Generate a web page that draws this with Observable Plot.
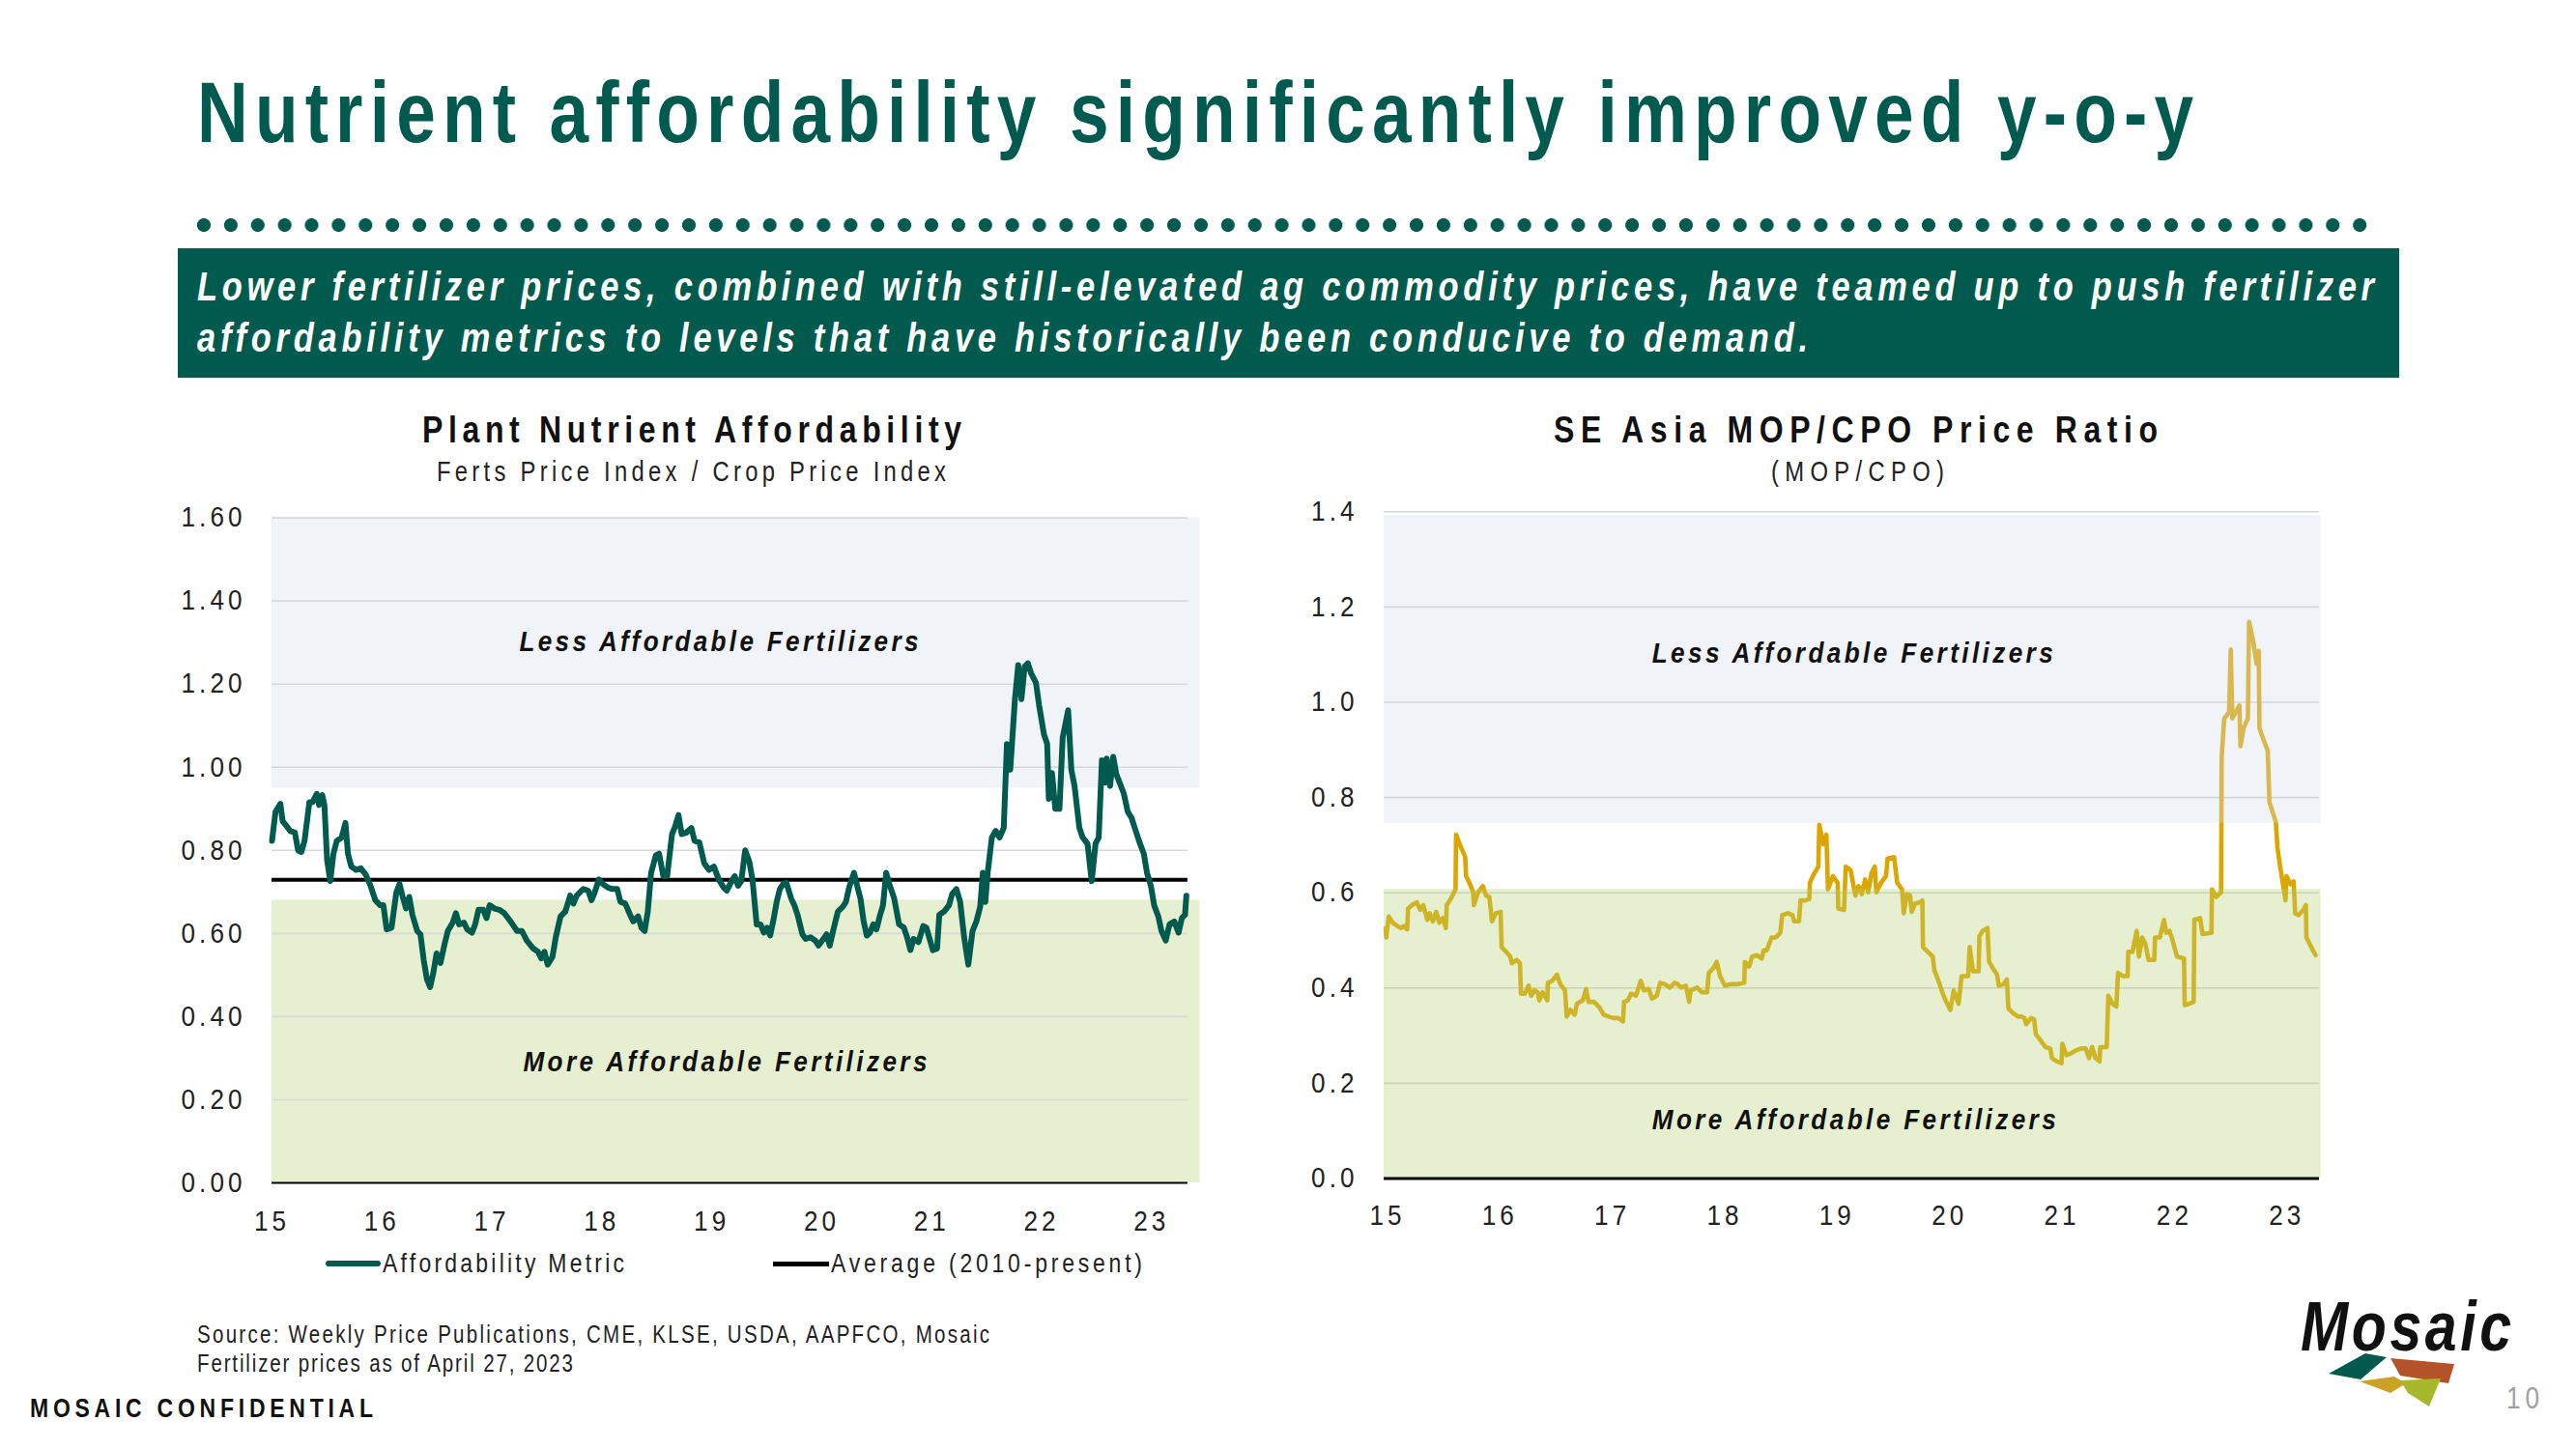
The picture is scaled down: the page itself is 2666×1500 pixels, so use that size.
<!DOCTYPE html>
<html><head><meta charset="utf-8">
<script src="https://cdn.jsdelivr.net/npm/d3@7"></script>
<script src="https://cdn.jsdelivr.net/npm/@observablehq/plot@0.6"></script>
<style>
html,body{margin:0;padding:0;background:#fff;}
body{width:2666px;height:1500px;position:relative;overflow:hidden;font-family:"Liberation Sans",Arial,sans-serif;color:#111;}
.t{position:absolute;white-space:nowrap;line-height:1;transform-origin:0 0;}
.abs{position:absolute;}
</style></head><body>
<div id="banner" class="abs" style="left:184px;top:257px;width:2299px;height:134px;background:#005a4e;"></div>
<div id="dots" class="abs"></div>
<div id="leftChart" class="abs" style="left:150px;top:500px;"></div>
<div id="rightChart" class="abs" style="left:1300px;top:500px;"></div>
<svg id="logo" class="abs" style="left:2400px;top:1392px;" width="150" height="70">
  <polygon points="10,30 48,9 70,13 43,36" fill="#005a4e"/>
  <polygon points="74,14 140,20 134,40 84,32" fill="#b4532a"/>
  <polygon points="42,38 78,33 90,40 74,50" fill="#c9a227"/>
  <polygon points="84,37 126,35 114,64 92,50" fill="#a8b82c"/>
</svg>
<script>
// ---------------- DATA ----------------
const xTicks = [15, 16, 17, 18, 19, 20, 21, 22, 23];
const leftYTicks = [0, 0.2, 0.4, 0.6, 0.8, 1.0, 1.2, 1.4, 1.6];
const rightYTicks = [0, 0.2, 0.4, 0.6, 0.8, 1.0, 1.2, 1.4];
const averageValue = 0.729;              // Average (2010-present)
const leftLessBand = [0.95, 1.6];        // Less affordable zone
const leftMoreBand = [0, 0.68];          // More affordable zone
const rightLessBand = [0.746, 1.392];
const rightMoreBand = [0, 0.607];
const leftBandYears = [15, 23.44];
const rightBandYears = [14.97, 23.305];

const affordYears = [
15.000,15.032,15.076,15.097,15.135,15.164,15.208,15.237,15.267,15.296,15.340,15.369,15.407,15.428,15.457,15.477,
15.501,15.530,15.559,15.589,15.633,15.668,15.691,15.721,15.765,15.808,15.852,15.896,15.940,15.984,16.013,16.043,
16.087,16.131,16.160,16.189,16.219,16.248,16.277,16.321,16.350,16.380,16.409,16.438,16.467,16.497,16.532,16.570,
16.599,16.643,16.673,16.702,16.746,16.775,16.819,16.848,16.878,16.922,16.951,16.980,17.024,17.068,17.112,17.170,
17.229,17.273,17.317,17.375,17.419,17.449,17.478,17.507,17.551,17.581,17.624,17.668,17.712,17.742,17.771,17.815,
17.832,17.876,17.906,17.935,17.973,18.008,18.052,18.096,18.140,18.169,18.213,18.257,18.286,18.330,18.360,18.389,
18.418,18.448,18.491,18.521,18.559,18.594,18.638,18.667,18.697,18.726,18.770,18.814,18.843,18.887,18.931,18.975,
19.019,19.063,19.107,19.136,19.180,19.209,19.238,19.268,19.303,19.341,19.370,19.408,19.443,19.473,19.502,19.531,
19.561,19.590,19.619,19.649,19.678,19.722,19.751,19.780,19.824,19.854,19.897,19.941,19.971,20.015,20.044,20.073,
20.103,20.147,20.190,20.220,20.249,20.293,20.322,20.352,20.381,20.410,20.439,20.469,20.498,20.527,20.557,20.586,
20.615,20.659,20.703,20.747,20.776,20.806,20.835,20.879,20.923,20.952,20.981,21.011,21.049,21.069,21.113,21.157,
21.186,21.224,21.259,21.295,21.333,21.371,21.406,21.441,21.465,21.488,21.509,21.547,21.582,21.617,21.655,21.684,
21.714,21.728,21.757,21.787,21.816,21.845,21.875,21.904,21.948,21.977,22.021,22.050,22.065,22.094,22.124,22.162,
22.191,22.241,22.270,22.299,22.343,22.373,22.417,22.455,22.490,22.519,22.548,22.578,22.592,22.622,22.651,22.680,
22.709,22.748,22.783,22.818,22.847,22.885,22.929,22.958,22.993,23.023,23.061,23.090,23.128,23.163,23.207,23.245,
23.275,23.304,23.316];
const affordValues = [
0.823,0.893,0.912,0.870,0.858,0.847,0.843,0.800,0.796,0.823,0.916,0.916,0.936,0.909,0.933,0.909,
0.777,0.726,0.792,0.823,0.831,0.866,0.792,0.761,0.753,0.757,0.742,0.715,0.680,0.668,0.668,0.610,
0.614,0.699,0.719,0.688,0.660,0.688,0.645,0.606,0.598,0.536,0.490,0.471,0.505,0.552,0.529,0.575,
0.606,0.626,0.649,0.622,0.626,0.610,0.602,0.622,0.657,0.657,0.637,0.668,0.660,0.657,0.649,0.629,
0.606,0.606,0.583,0.564,0.556,0.540,0.556,0.525,0.544,0.591,0.641,0.653,0.691,0.672,0.691,0.703,
0.707,0.703,0.680,0.699,0.730,0.719,0.711,0.707,0.707,0.676,0.672,0.645,0.629,0.641,0.614,0.606,
0.653,0.746,0.788,0.792,0.738,0.738,0.839,0.858,0.885,0.839,0.843,0.854,0.823,0.819,0.769,0.753,
0.761,0.730,0.711,0.703,0.726,0.738,0.715,0.726,0.800,0.773,0.730,0.622,0.622,0.602,0.614,0.595,
0.633,0.676,0.707,0.719,0.722,0.684,0.668,0.645,0.598,0.587,0.591,0.583,0.571,0.587,0.598,0.571,
0.606,0.653,0.664,0.676,0.711,0.746,0.715,0.684,0.629,0.595,0.602,0.622,0.610,0.641,0.668,0.746,
0.719,0.684,0.622,0.614,0.591,0.560,0.587,0.579,0.618,0.614,0.587,0.560,0.564,0.645,0.653,0.668,
0.695,0.707,0.676,0.591,0.525,0.606,0.629,0.664,0.746,0.676,0.746,0.831,0.847,0.831,0.854,1.056,
0.994,1.048,1.164,1.246,1.164,1.242,1.250,1.226,1.203,1.149,1.079,1.056,0.924,0.986,0.900,0.900,
1.071,1.137,0.994,0.955,0.854,0.831,0.816,0.726,0.816,0.831,1.017,0.963,1.021,0.955,1.025,0.982,
0.963,0.936,0.893,0.878,0.854,0.823,0.792,0.746,0.715,0.668,0.641,0.606,0.583,0.622,0.629,0.602,
0.637,0.645,0.691];

const mopYears = [
14.983,14.989,15.011,15.046,15.089,15.118,15.146,15.175,15.183,15.218,15.261,15.290,15.318,15.355,15.375,15.404,
15.433,15.461,15.490,15.519,15.527,15.562,15.605,15.610,15.648,15.691,15.699,15.734,15.762,15.768,15.805,15.848,
15.877,15.906,15.929,15.963,16.006,16.015,16.055,16.092,16.106,16.149,16.178,16.187,16.221,16.255,16.278,16.307,
16.336,16.350,16.379,16.422,16.427,16.465,16.508,16.536,16.579,16.594,16.628,16.665,16.685,16.737,16.766,16.788,
16.837,16.880,16.923,16.966,17.009,17.052,17.095,17.104,17.138,17.167,17.210,17.253,17.281,17.324,17.353,17.396,
17.425,17.468,17.511,17.554,17.582,17.611,17.654,17.683,17.697,17.726,17.754,17.797,
17.843,17.858,17.900,17.929,17.958,18.001,18.058,18.116,18.173,18.179,18.216,18.244,18.287,18.330,18.345,18.373,
18.416,18.454,18.494,18.511,18.560,18.603,18.617,18.660,18.674,18.717,18.752,18.757,18.789,18.832,18.841,18.875,
18.904,18.918,18.961,19.004,19.010,19.061,19.076,19.119,19.162,19.190,19.219,19.248,19.276,19.305,19.334,19.348,
19.391,19.434,19.448,19.506,19.534,19.577,19.592,19.620,19.649,19.663,19.692,19.735,19.758,19.763,19.806,19.850,
19.864,19.907,19.935,19.964,20.007,20.036,20.079,20.107,20.165,20.179,20.208,20.259,20.265,20.294,20.337,20.351,
20.394,20.423,20.437,20.480,20.509,20.523,20.566,20.609,
20.638,20.666,20.681,20.724,20.752,20.767,20.810,20.853,20.896,20.910,20.953,20.996,21.002,21.039,21.082,21.125,
21.168,21.211,21.240,21.268,21.297,21.334,21.340,21.397,21.412,21.449,21.483,21.498,21.541,21.584,21.589,21.627,
21.664,21.684,21.713,21.741,21.770,21.821,21.827,21.870,21.907,21.927,21.956,21.985,22.022,22.085,22.091,22.128,
22.171,22.177,22.228,22.251,22.329,22.334,22.372,22.415,22.420,22.443,22.486,22.501,22.515,22.544,22.578,22.587,
22.615,22.653,22.664,22.701,22.730,22.750,22.756,22.787,22.830,22.845,22.902,22.916,22.945,22.988,22.997,23.031,
23.060,23.074,23.103,23.146,23.169,23.174,23.217,23.255];
const mopValues = [
0.526,0.506,0.550,0.537,0.530,0.526,0.530,0.523,0.567,0.574,0.580,0.564,0.574,0.543,0.557,0.540,
0.560,0.537,0.547,0.526,0.574,0.587,0.607,0.722,0.699,0.675,0.635,0.618,0.601,0.574,0.601,0.614,
0.594,0.591,0.540,0.557,0.560,0.486,0.476,0.466,0.452,0.459,0.452,0.388,0.388,0.405,0.384,0.395,
0.391,0.374,0.391,0.374,0.411,0.415,0.428,0.408,0.395,0.340,0.354,0.344,0.367,0.374,0.398,0.371,
0.371,0.361,0.344,0.340,0.337,0.337,0.330,0.371,0.374,0.388,0.384,0.415,0.395,0.398,0.378,0.384,
0.411,0.408,0.401,0.411,0.408,0.401,0.405,0.371,0.395,0.398,0.401,0.391,
0.391,0.432,0.442,0.455,0.425,0.405,0.408,0.408,0.411,0.455,0.445,0.466,0.469,0.462,0.479,0.479,
0.506,0.506,0.516,0.553,0.557,0.553,0.540,0.540,0.584,0.584,0.587,0.621,0.638,0.655,0.743,0.702,
0.722,0.607,0.635,0.621,0.567,0.564,0.655,0.648,0.594,0.614,0.597,0.628,0.601,0.641,0.655,0.601,
0.621,0.635,0.672,0.675,0.621,0.607,0.557,0.597,0.594,0.560,0.577,0.580,0.584,0.486,0.476,0.466,
0.438,0.411,0.391,0.374,0.354,0.395,0.367,0.425,0.425,0.486,0.435,0.435,0.509,0.520,0.526,0.455,
0.438,0.428,0.405,0.408,0.418,0.357,0.347,0.340,
0.340,0.337,0.324,0.337,0.334,0.303,0.290,0.276,0.273,0.253,0.246,0.242,0.283,0.259,0.263,0.269,
0.273,0.273,0.253,0.276,0.253,0.246,0.276,0.276,0.384,0.367,0.361,0.432,0.425,0.425,0.476,0.476,
0.520,0.466,0.506,0.493,0.459,0.459,0.506,0.506,0.543,0.516,0.520,0.499,0.466,0.462,0.364,0.367,
0.371,0.543,0.547,0.513,0.516,0.607,0.591,0.601,0.885,0.966,0.979,1.111,0.966,0.979,0.993,0.908,
0.946,0.966,1.169,1.128,1.081,1.108,0.946,0.925,0.898,0.790,0.749,0.695,0.648,0.584,0.635,0.618,
0.624,0.557,0.553,0.564,0.574,0.506,0.486,0.469];

// ---------------- TEXT HELPERS ----------------
const FONT = '"Liberation Sans",Arial,sans-serif';
const K = 0.82;   // horizontal condensing for HTML text (narrow face look)
const KS = 0.9;   // condensing for chart text
function place(text, o) {
  const d = document.createElement("div");
  d.className = "t";
  d.textContent = text;
  d.style.fontSize = o.size + "px";
  d.style.fontWeight = o.weight || "normal";
  d.style.fontStyle = o.style || "normal";
  d.style.color = o.color || "#111";
  d.style.left = o.x + "px";
  d.style.top = (o.baseline - 0.8465 * o.size) + "px";
  d.style.transform = `scaleX(${K})`;
  document.body.appendChild(d);
  if (o.width) {
    d.style.letterSpacing = "0px";
    const w0 = d.getBoundingClientRect().width;
    const n = text.length;
    d.style.letterSpacing = ((o.width - w0) / (K * (n - 1))) + "px";
  }
  return d;
}

// Header
place("Nutrient affordability significantly improved y-o-y", {x:204, baseline:147, size:89, weight:"bold", color:"#005a4e", width:2066});
place("Lower fertilizer prices, combined with still-elevated ag commodity prices, have teamed up to push fertilizer", {x:204, baseline:311.7, size:42, weight:"bold", style:"italic", color:"#fff", width:2253});
place("affordability metrics to levels that have historically been conducive to demand.", {x:204, baseline:365, size:42, weight:"bold", style:"italic", color:"#fff", width:1667});

// dotted rule
(function(){
  const n = 81, first = 210.5, last = 2442.5, r = 6.6;
  const step = (last - first) / (n - 1);
  const d = document.getElementById("dots");
  d.style.left = (first - step / 2) + "px";
  d.style.top = (233 - 8) + "px";
  d.style.width = (n * step) + "px";
  d.style.height = "16px";
  d.style.backgroundImage = `radial-gradient(circle at center, #005a4e ${r}px, rgba(0,90,78,0) ${r + 0.8}px)`;
  d.style.backgroundSize = `${step}px 16px`;
  d.style.backgroundRepeat = "repeat-x";
})();

// Chart titles
place("Plant Nutrient Affordability", {x:437, baseline:458, size:39, weight:"bold", color:"#111", width:558});
place("Ferts Price Index / Crop Price Index", {x:452, baseline:499, size:29, color:"#222", width:527});
place("SE Asia MOP/CPO Price Ratio", {x:1608, baseline:458, size:39, weight:"bold", color:"#111", width:625});
place("(MOP/CPO)", {x:1833, baseline:499, size:29, color:"#222", width:179});

// Legend swatches
(function(){
  const s1 = document.createElement("div");
  s1.className = "abs";
  Object.assign(s1.style, {left:"337px", top:"1305px", width:"57px", height:"6px", background:"#005a4e", borderRadius:"3px"});
  document.body.appendChild(s1);
  const s2 = document.createElement("div");
  s2.className = "abs";
  Object.assign(s2.style, {left:"800px", top:"1306px", width:"58px", height:"4.5px", background:"#000"});
  document.body.appendChild(s2);
})();
place("Affordability Metric", {x:396, baseline:1318, size:28, color:"#222", width:250});
place("Average (2010-present)", {x:860, baseline:1318, size:28, color:"#222", width:322});

// Footer
place("Source: Weekly Price Publications, CME, KLSE, USDA, AAPFCO, Mosaic", {x:204, baseline:1390, size:25, color:"#222", width:820});
place("Fertilizer prices as of April 27, 2023", {x:204, baseline:1420, size:25, color:"#222", width:389});
place("MOSAIC CONFIDENTIAL", {x:31, baseline:1468, size:28, weight:"bold", color:"#111", width:355});
place("10", {x:2594, baseline:1458, size:32, color:"#a0a0a0", width:34});
place("Mosaic", {x:2381, baseline:1398, size:72, weight:"bold", style:"italic", color:"#111", width:218});

// ---------------- CHARTS ----------------
const affordTable = affordYears.map((x, i) => ({x, y: affordValues[i]}));
const mopTable = mopYears.map((x, i) => ({x, y: mopValues[i]}));
const band = (yr, yb) => [{x1: yr[0], x2: yr[1], y1: yb[0], y2: yb[1]}];
const LS = 4.5;           // tick label letter spacing before condensing
const TRAIL = LS * KS;    // trailing spacing after an end-anchored label

const left = Plot.plot({
  width: 1150, height: 800,
  marginLeft: 131, marginRight: 71.1, marginTop: 35.6, marginBottom: 76,
  style: {fontFamily: FONT, fontSize: "29px", color: "#222", background: "transparent", overflow: "visible"},
  x: {domain: [15, 23.33], ticks: xTicks, tickFormat: d => String(d), tickSize: 0, tickPadding: 29, label: null},
  y: {domain: [0, 1.6], ticks: leftYTicks, tickFormat: d3.format(".2f"), tickSize: 0, tickPadding: 31 - TRAIL, label: null},
  marks: [
    Plot.rect(band(leftBandYears, leftLessBand), {x1: "x1", x2: "x2", y1: "y1", y2: "y2", fill: "#f0f3f7"}),
    Plot.rect(band(leftBandYears, leftMoreBand), {x1: "x1", x2: "x2", y1: "y1", y2: "y2", fill: "#e6f0d0"}),
    Plot.gridY(leftYTicks.filter(d => d > 0), {stroke: "#d6d8da", strokeOpacity: 1, strokeWidth: 1.6}),
    Plot.ruleY([0], {stroke: "#000", strokeWidth: 2}),
    Plot.ruleY([averageValue], {stroke: "#000", strokeWidth: 4}),
    Plot.line(affordTable, {x: "x", y: "y", stroke: "#005a4e", strokeWidth: 6, strokeLinejoin: "round", strokeLinecap: "round"}),
    Plot.text(["Less Affordable Fertilizers"], {x: 19.064, y: 1.30, text: d => d, fontSize: 29, fontWeight: "bold", fontStyle: "italic", fill: "#111"}),
    Plot.text(["More Affordable Fertilizers"], {x: 19.121, y: 0.291, text: d => d, fontSize: 29, fontWeight: "bold", fontStyle: "italic", fill: "#111"})
  ]
});
document.getElementById("leftChart").appendChild(left);

const right = Plot.plot({
  width: 1150, height: 800,
  marginLeft: 132, marginRight: 50, marginTop: 29.3, marginBottom: 80.5,
  style: {fontFamily: FONT, fontSize: "29px", color: "#222", background: "transparent", overflow: "visible"},
  x: {domain: [14.97, 23.29], ticks: xTicks, tickFormat: d => String(d), tickSize: 0, tickPadding: 27.5, label: null},
  y: {domain: [0, 1.4], ticks: rightYTicks, tickFormat: d3.format(".1f"), tickSize: 0, tickPadding: 31 - TRAIL, label: null},
  marks: [
    Plot.gridY(rightYTicks.filter(d => d > 0), {stroke: "#d4d6d9", strokeOpacity: 1, strokeWidth: 1.6}),
    Plot.line(mopTable, {x: "x", y: "y", stroke: "#dba600", strokeWidth: 4.6, strokeLinejoin: "round"}),
    Plot.rect(band(rightBandYears, rightLessBand), {x1: "x1", x2: "x2", y1: "y1", y2: "y2", fill: "rgb(211,220,232)", fillOpacity: 0.34}),
    Plot.rect(band(rightBandYears, rightMoreBand), {x1: "x1", x2: "x2", y1: "y1", y2: "y2", fill: "rgb(181,211,117)", fillOpacity: 0.34}),
    Plot.ruleY([0], {stroke: "#000", strokeWidth: 3}),
    Plot.text(["Less Affordable Fertilizers"], {x: 19.136, y: 1.102, text: d => d, fontSize: 29, fontWeight: "bold", fontStyle: "italic", fill: "#111"}),
    Plot.text(["More Affordable Fertilizers"], {x: 19.149, y: 0.123, text: d => d, fontSize: 29, fontWeight: "bold", fontStyle: "italic", fill: "#111"})
  ]
});
document.getElementById("rightChart").appendChild(right);

// condense svg text around its anchor, widen tick spacing, fit band labels
function condense(t, k) {
  const tr = t.getAttribute("transform") || "";
  let ax = parseFloat(t.getAttribute("x") || 0) || 0;
  const m = tr.match(/translate\(\s*([-\d.e+]+)/);
  if (m) ax += parseFloat(m[1]);
  t.setAttribute("transform", `translate(${ax},0) scale(${k},1) translate(${-ax},0) ${tr}`);
}
const labelWidths = {
  left: {"Less Affordable Fertilizers": 413, "More Affordable Fertilizers": 418},
  right: {"Less Affordable Fertilizers": 415, "More Affordable Fertilizers": 418}
};
for (const svg of [left, right]) {
  const side = svg === left ? "left" : "right";
  svg.querySelectorAll('[aria-label$="tick label"]').forEach(g => { g.style.letterSpacing = LS + "px"; });
  svg.querySelectorAll("text").forEach(t => {
    const s = t.textContent;
    if (labelWidths[side][s]) {
      t.setAttribute("textLength", labelWidths[side][s] / KS);
      t.setAttribute("lengthAdjust", "spacing");
    }
    condense(t, KS);
  });
}
</script>
</body></html>
